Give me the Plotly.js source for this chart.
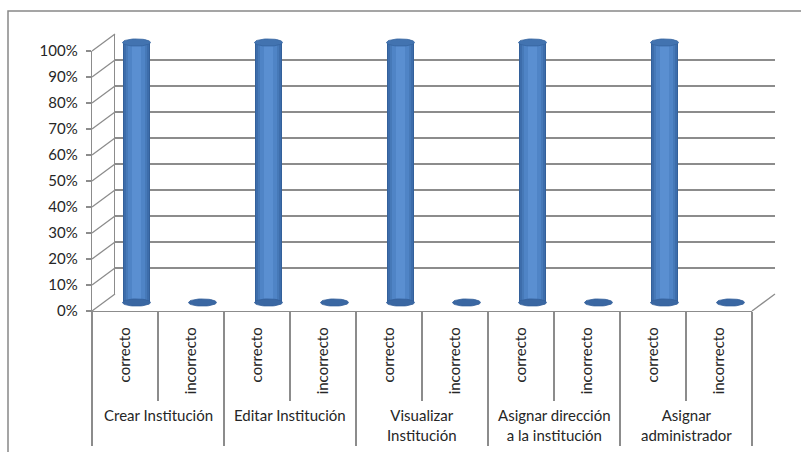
<!DOCTYPE html>
<html>
<head>
<meta charset="utf-8">
<script src="https://cdn.plot.ly/plotly-3.0.1.min.js"></script>
<style>html,body{margin:0;padding:0;background:#fff;}#chart{width:801px;height:452px;}</style>
</head>
<body>
<div id="chart"></div>
<script>
// ---- data ----
const groups = ['Crear Institución', 'Editar Institución', 'Visualizar<br>Institución', 'Asignar dirección<br>a la institución', 'Asignar<br>administrador'];
const subLabels = ['correcto', 'incorrecto'];
const correcto = [1, 1, 1, 1, 1];
const incorrecto = [0, 0, 0, 0, 0];
const yTicks = [0, 0.1, 0.2, 0.3, 0.4, 0.5, 0.6, 0.7, 0.8, 0.9, 1.0];

// ---- derived ----
const idx = [], ticktext = [], values = [];
groups.forEach((g, i) => {
  idx.push(2 * i); ticktext.push(subLabels[0]); values.push(correcto[i]);
  idx.push(2 * i + 1); ticktext.push(subLabels[1]); values.push(incorrecto[i]);
});
const boundaries = [];
for (let i = 0; i <= idx.length; i++) boundaries.push(i - 0.5);
const groupBounds = [];
for (let i = 0; i <= groups.length; i++) groupBounds.push(2 * i - 0.5);
const groupCenters = groups.map((g, i) => 2 * i + 0.5);

// ---- geometry (pixels) ----
const W = 801, H = 452;
const px = x => x / W, py = y => 1 - y / H;
const FX0 = 92, FX1 = 752, FY0 = 311, FY1 = 51, DX = 23, DY = 17;
const UNIT = FY0 - FY1;          // pixels per 100%
const PAD = 0.06;                // extra range so ellipses are not clipped
const GRID = '#8c8c8c';
const TXT = '#262626';
const FONT = 'Lato, "Open Sans", sans-serif';
const FS = 15;

// ellipse helper
const halfW = 0.212, ryPx = 3.6, ry = ryPx / UNIT;
function ellipses(xs, ys) {
  const ex = [], ey = [];
  xs.forEach((x, k) => {
    for (let j = 0; j <= 40; j++) {
      const t = 2 * Math.PI * j / 40;
      ex.push(x + halfW * Math.cos(t));
      ey.push(ys[k] + ry * Math.sin(t));
    }
    ex.push(null); ey.push(null);
  });
  return {ex, ey};
}

const traces = [];
// base ellipses (bottom of cylinders & zero-height discs)
const baseEll = ellipses(idx, idx.map(() => 0));
traces.push({type: 'scatter', x: baseEll.ex, y: baseEll.ey, xaxis: 'x3', yaxis: 'y3', mode: 'lines',
  fill: 'toself', fillcolor: '#3A67A2', line: {color: '#33609A', width: 0.8}, hoverinfo: 'skip', showlegend: false});
// cylinder bodies: concentric bars to fake shading
const layers = [
  {w: 0.424, c: '#33609A'},
  {w: 0.39, c: '#3D6DAB'},
  {w: 0.33, c: '#4679B8'},
  {w: 0.25, c: '#4F84C6'},
  {w: 0.15, c: '#5A8FD1'}
];
layers.forEach(L => {
  traces.push({type: 'bar', x: idx, y: values, width: L.w, xaxis: 'x3', yaxis: 'y3',
    marker: {color: L.c, line: {width: 0}}, hoverinfo: 'skip', showlegend: false});
});
// top ellipses for non-zero values
const topX = [], topY = [];
idx.forEach((x, k) => { if (values[k] > 0) { topX.push(x); topY.push(values[k]); } });
const topEll = ellipses(topX, topY);
traces.push({type: 'scatter', x: topEll.ex, y: topEll.ey, xaxis: 'x3', yaxis: 'y3', mode: 'lines',
  fill: 'toself', fillcolor: '#4273B0', line: {color: '#36659F', width: 0.8}, hoverinfo: 'skip', showlegend: false});
// invisible traces to activate the other axes
traces.push({type: 'scatter', x: [0], y: [0], xaxis: 'x', yaxis: 'y', mode: 'markers', marker: {opacity: 0}, hoverinfo: 'skip', showlegend: false});
traces.push({type: 'scatter', x: [0], y: [0], xaxis: 'x2', yaxis: 'y2', mode: 'markers', marker: {opacity: 0}, hoverinfo: 'skip', showlegend: false});
traces.push({type: 'scatter', x: [0], y: [0], xaxis: 'x4', yaxis: 'y', mode: 'markers', marker: {opacity: 0}, hoverinfo: 'skip', showlegend: false});
traces.push({type: 'scatter', x: [0], y: [0], xaxis: 'x5', yaxis: 'y', mode: 'markers', marker: {opacity: 0}, hoverinfo: 'skip', showlegend: false});

const rng = [-0.5, idx.length - 0.5];
const hidden = {showgrid: false, zeroline: false, showline: false, showticklabels: false, ticks: '', fixedrange: true};

const shapes = [];
// outer chart border
shapes.push({type: 'rect', xref: 'paper', yref: 'paper', x0: px(8), y0: py(11), x1: px(830), y1: py(480),
  line: {color: '#888888', width: 1.5}, fillcolor: 'rgba(0,0,0,0)', layer: 'below'});
// side-wall diagonals
yTicks.forEach(v => {
  const yf = FY0 - v * UNIT;
  shapes.push({type: 'line', xref: 'paper', yref: 'paper', x0: px(FX0), y0: py(yf), x1: px(FX0 + DX), y1: py(yf - DY),
    line: {color: GRID, width: 1.3}, layer: 'below'});
});
// floor right edge
shapes.push({type: 'line', xref: 'paper', yref: 'paper', x0: px(FX1), y0: py(FY0), x1: px(FX1 + DX), y1: py(FY0 - DY),
  line: {color: GRID, width: 1.3}, layer: 'below'});

const annotations = groups.map((g, i) => ({
  xref: 'x', yref: 'paper', x: groupCenters[i], y: py(404), xanchor: 'center', yanchor: 'top',
  text: g, showarrow: false, font: {family: FONT, size: FS, color: TXT}, align: 'center'
}));

const layout = {
  width: W, height: H,
  margin: {l: 0, r: 0, t: 0, b: 0},
  paper_bgcolor: '#ffffff', plot_bgcolor: 'rgba(0,0,0,0)',
  showlegend: false, barmode: 'overlay', bargap: 0,
  font: {family: FONT, size: FS, color: TXT},
  xaxis: {domain: [px(FX0), px(FX1)], range: rng, anchor: 'y', tickmode: 'array', tickvals: idx, ticktext: ticktext,
    tickangle: -90, ticks: '', showline: true, linecolor: GRID, linewidth: 1.3, showgrid: false, zeroline: false,
    tickfont: {family: FONT, size: FS, color: TXT}, ticklabelstandoff: 9, fixedrange: true},
  xaxis4: Object.assign({}, hidden, {overlaying: 'x', range: rng, anchor: 'y', tickmode: 'array', tickvals: boundaries,
    ticks: 'outside', ticklen: 89, tickcolor: GRID, tickwidth: 1.3}),
  xaxis5: Object.assign({}, hidden, {overlaying: 'x', range: rng, anchor: 'y', tickmode: 'array', tickvals: groupBounds,
    ticks: 'outside', ticklen: 134, tickcolor: GRID, tickwidth: 1.3}),
  yaxis: {domain: [py(FY0), py(FY1)], range: [0, 1], anchor: 'x', tickmode: 'array', tickvals: yTicks, tickformat: '.0%',
    ticks: 'outside', ticklen: 5, tickcolor: GRID, tickwidth: 1.3, showline: true, linecolor: GRID, linewidth: 1.3,
    showgrid: false, zeroline: false, tickfont: {family: FONT, size: FS, color: TXT}, ticklabelstandoff: 5, fixedrange: true},
  xaxis2: Object.assign({}, hidden, {domain: [px(FX0 + DX), px(FX1 + DX)], range: rng, anchor: 'y2'}),
  yaxis2: {domain: [py(FY0 - DY), py(FY1 - DY)], range: [0, 1], anchor: 'x2', tickmode: 'array', tickvals: yTicks,
    showgrid: true, gridcolor: GRID, gridwidth: 1.3, showline: true, linecolor: GRID, linewidth: 1.3,
    zeroline: false, showticklabels: false, ticks: '', fixedrange: true},
  xaxis3: Object.assign({}, hidden, {domain: [px(FX0 + DX / 2), px(FX1 + DX / 2)], range: rng, anchor: 'y3'}),
  yaxis3: Object.assign({}, hidden, {domain: [py(FY0 - DY / 2 + PAD * UNIT), py(FY1 - DY / 2 - PAD * UNIT)],
    range: [-PAD, 1 + PAD], anchor: 'x3'}),
  shapes: shapes,
  annotations: annotations
};

Plotly.newPlot('chart', traces, layout, {displayModeBar: false, staticPlot: true});
</script>
</body>
</html>
